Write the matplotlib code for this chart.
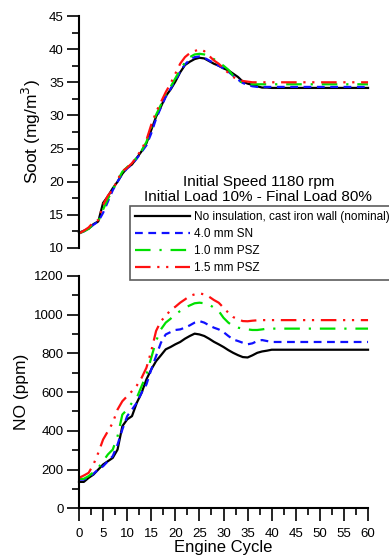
import numpy as np
import matplotlib.pyplot as plt
from matplotlib.ticker import MultipleLocator

plt.rcParams['font.family'] = ['Liberation Sans', 'DejaVu Sans']

cycles = list(range(0, 61))

def extend(vals):
    # values read up to cycle 40, then flat plateau to 60
    return vals + [vals[-1]] * (61 - len(vals))

soot_nominal = extend([12.3, 12.6, 12.9, 13.6, 14.0, 16.8, 17.8, 19.0, 20.0, 21.2, 22.1,
                       22.6, 23.6, 24.6, 25.8, 27.8, 29.8, 31.3, 32.9, 33.9, 35.1,
                       36.5, 37.6, 38.1, 38.5, 38.7, 38.6, 38.2, 37.8, 37.5, 37.1,
                       36.8, 36.3, 35.8, 35.1, 34.8, 34.6, 34.4, 34.2, 34.2, 34.15])
soot_sn40 = extend([12.2, 12.5, 12.9, 13.5, 14.0, 15.3, 17.0, 18.7, 20.0, 21.2, 22.0,
                    22.6, 23.5, 24.5, 25.5, 27.3, 29.5, 31.2, 32.8, 34.0, 35.3,
                    36.6, 37.7, 38.4, 38.8, 38.9, 38.7, 38.3, 37.9, 37.5, 37.1,
                    36.6, 36.0, 35.4, 34.9, 34.6, 34.4, 34.3, 34.3, 34.3, 34.3])
soot_psz10 = extend([12.2, 12.5, 12.9, 13.6, 14.0, 15.8, 17.4, 18.8, 20.2, 21.5, 22.2,
                     22.9, 23.6, 24.7, 26.0, 28.2, 30.1, 31.6, 33.2, 34.3, 35.6,
                     36.9, 38.0, 38.8, 39.2, 39.3, 39.2, 38.9, 38.5, 38.0, 37.5,
                     36.9, 36.0, 35.3, 34.9, 34.8, 34.7, 34.7, 34.7, 34.7, 34.7])
soot_psz15 = extend([12.2, 12.6, 13.1, 13.9, 14.2, 16.5, 17.9, 18.8, 20.3, 21.6, 22.1,
                     22.8, 23.8, 24.9, 26.3, 28.6, 30.5, 32.0, 33.5, 34.8, 36.3,
                     37.8, 38.8, 39.4, 39.7, 40.0, 39.7, 39.0, 38.3, 37.8, 37.1,
                     36.4, 35.8, 35.4, 35.2, 35.1, 35.0, 35.0, 35.0, 35.0, 35.0])

no_nominal = extend([136, 136, 157, 174, 200, 226, 243, 260, 303, 424, 459,
                     476, 545, 597, 666, 717, 760, 790, 821, 833, 847,
                     859, 876, 890, 902, 898, 890, 876, 860, 847, 833,
                     817, 803, 791, 781, 779, 790, 803, 810, 814, 819])
no_sn40 = extend([148, 148, 160, 178, 200, 217, 243, 269, 329, 407, 476,
                  510, 545, 597, 640, 717, 786, 855, 898, 910, 921,
                  924, 933, 945, 959, 967, 959, 945, 933, 924, 910,
                  890, 872, 864, 855, 847, 852, 864, 869, 864, 859])
no_psz10 = extend([152, 152, 166, 186, 209, 243, 278, 303, 372, 484, 510,
                   545, 571, 631, 691, 778, 864, 924, 959, 979, 1002,
                   1019, 1036, 1048, 1059, 1062, 1059, 1053, 1036, 1019, 984,
                   959, 941, 933, 928, 924, 921, 921, 924, 928, 928])
no_psz15 = extend([157, 169, 183, 226, 286, 355, 398, 441, 510, 553, 579,
                   605, 634, 674, 726, 812, 916, 967, 993, 1024, 1041,
                   1062, 1079, 1097, 1105, 1110, 1105, 1093, 1076, 1062, 1036,
                   1010, 988, 976, 967, 966, 969, 971, 972, 972, 972])

labels = ['No insulation, cast iron wall (nominal)', '4.0 mm SN', '1.0 mm PSZ', '1.5 mm PSZ']
colors = ['black', '#1010ff', '#00e000', '#ff1010']
dashes = [None, (3.5, 2.5), (7, 4, 1, 4), (7, 3, 1, 3, 1, 3)]

fig = plt.figure(figsize=(3.89, 5.58), dpi=100)
ax1 = fig.add_axes([0.2031, 0.5556, 0.743, 0.4157])
ax2 = fig.add_axes([0.2031, 0.0892, 0.743, 0.4162])

def style(ax, line):
    h = []
    for ys, c, d, lab in zip(line, colors, dashes, labels):
        l, = ax.plot(cycles, ys, color=c, lw=1.6, label=lab, clip_on=False)
        if d is not None:
            l.set_dashes(d)
        h.append(l)
    for s in ['top', 'right']:
        ax.spines[s].set_visible(False)
    ax.spines['left'].set_linewidth(1.5)
    ax.tick_params(which='major', length=9, width=1.2, labelsize=9.5, pad=2)
    ax.tick_params(which='minor', length=5, width=1.2)
    ax.set_xlim(0, 60)
    return h

handles = style(ax1, [soot_nominal, soot_sn40, soot_psz10, soot_psz15])
ax1.set_ylim(10, 45)
ax1.yaxis.set_major_locator(MultipleLocator(5))
ax1.yaxis.set_minor_locator(MultipleLocator(2.5))
ax1.spines['bottom'].set_visible(False)
ax1.set_xticks([])
ax1.set_ylabel('Soot (mg/m$^3$)', fontsize=12.5, labelpad=4)
ax1.text(0.62, 0.19, 'Initial Speed 1180 rpm\nInitial Load 10% - Final Load 80%',
         transform=ax1.transAxes, ha='center', va='bottom', fontsize=11,
         linespacing=1.12)

style(ax2, [no_nominal, no_sn40, no_psz10, no_psz15])
ax2.set_ylim(0, 1200)
ax2.yaxis.set_major_locator(MultipleLocator(200))
ax2.yaxis.set_minor_locator(MultipleLocator(100))
ax2.xaxis.set_major_locator(MultipleLocator(5))
ax2.xaxis.set_minor_locator(MultipleLocator(2.5))
ax2.tick_params(axis='x', which='major', pad=5)
ax2.spines['bottom'].set_linewidth(1.5)
ax2.set_ylabel('NO (ppm)', fontsize=12.5, labelpad=4)
ax2.set_xlabel('Engine Cycle', fontsize=12, labelpad=0)

leg = fig.legend(handles=handles, loc='upper left', bbox_to_anchor=(130 / 389, 1 - 206 / 558),
                 fontsize=8.5, frameon=True, fancybox=False, handlelength=4.6,
                 labelspacing=0.42, borderpad=0.45, handletextpad=0.4, borderaxespad=0)
leg.get_frame().set_edgecolor('#333333')
leg.get_frame().set_linewidth(1.2)

fig.savefig('out.png', dpi=100)
